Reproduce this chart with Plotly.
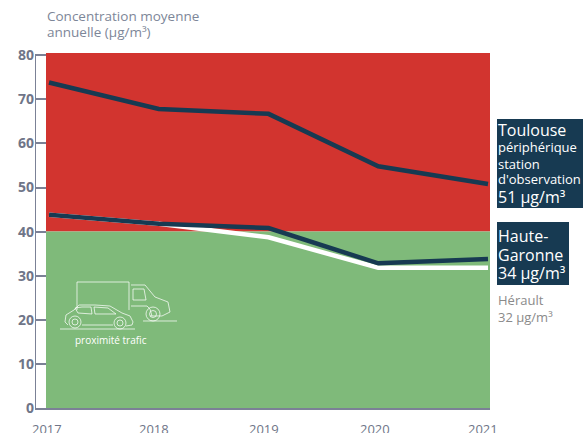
import plotly.graph_objects as go

years = [2017, 2018, 2019, 2020, 2021]
toulouse = [73.8, 67.8, 66.7, 54.8, 50.8]
haute_garonne = [43.8, 41.8, 40.8, 32.8, 33.8]
herault = [43.8, 41.8, 38.7, 31.8, 31.8]
y_ticks = [0, 10, 20, 30, 40, 50, 60, 70, 80]
threshold = 40

W, H = 583, 433
L, R, T, B = 35, 490, 53, 408
DARK = "#173a52"
GREY = "#7b8196"
RED = "#d2342f"
GREEN = "#7fba7a"
FONT = "Open Sans"

PX_PER_YEAR = 109.75
x_range = [2017 - (49 - L) / PX_PER_YEAR, 2017 + (R - 49) / PX_PER_YEAR]
y_range = [0, (B - T) / 44.1 * 10]


def px(x):
    return (x - L) / (R - L)


def py(y):
    return (B - y) / (B - T)


def path(points, close=False):
    s = "M " + " L ".join(f"{px(x):.4f},{py(y):.4f}" for x, y in points)
    return s + (" Z" if close else "")


fig = go.Figure()
for name, vals, col in [("Hérault", herault, "white"),
                        ("Haute-Garonne", haute_garonne, DARK),
                        ("Toulouse", toulouse, DARK)]:
    fig.add_trace(go.Scatter(x=years, y=vals, mode="lines", name=name,
                             line=dict(color=col, width=4.5, shape="linear"),
                             hoverinfo="x+y+name"))

shapes = []
rect_x0 = 2017 - 3 / PX_PER_YEAR
shapes.append(dict(type="rect", xref="x", yref="y", x0=rect_x0, x1=x_range[1],
                   y0=threshold, y1=y_range[1], fillcolor=RED, line_width=0, layer="below"))
shapes.append(dict(type="rect", xref="x", yref="y", x0=rect_x0, x1=x_range[1],
                   y0=0, y1=threshold, fillcolor=GREEN, line_width=0, layer="below"))
# y-axis line stops at the 80 tick
shapes.append(dict(type="line", xref="x", yref="y", x0=x_range[0], x1=x_range[0],
                   y0=0, y1=80, line=dict(color=GREY, width=2), layer="above"))
# Label boxes
for x0, y0, x1, y1 in [(497, 119, 583, 208), (497, 222, 569, 285)]:
    shapes.append(dict(type="rect", xref="paper", yref="paper", x0=px(x0), x1=px(x1),
                       y0=py(y1), y1=py(y0), fillcolor=DARK, line_width=0, layer="above"))

# Vehicle pictogram
icon = "rgba(255,255,255,0.72)"
icon_paths = [
    # truck box
    [(77, 310), (77, 282), (129, 282), (129, 310)],
    # cab
    [(131, 285), (145, 285), (155, 297), (168, 302), (170, 312), (162, 316), (150, 316)],
    [(133, 289), (144, 289), (146, 300), (133, 300), (133, 289)],
    [(131, 306), (147, 306), (150, 309), (152, 316)],
    # car body
    [(65, 322), (66, 315), (74, 310), (79, 305), (95, 305), (110, 306), (122, 313),
     (130, 316), (133, 322), (132, 325), (126, 326)],
    [(65, 322), (68, 325)],
    [(82, 325), (113, 325)],
    [(75, 308), (82, 307), (91, 307), (92, 314), (78, 313), (75, 308)],
    [(94, 307), (108, 308), (116, 314), (95, 314), (94, 307)],
    # ground lines
    [(60, 329), (135, 329)],
    [(143, 321), (177, 321)],
]
for p in icon_paths:
    shapes.append(dict(type="path", xref="paper", yref="paper", path=path(p),
                       line=dict(color=icon, width=1), layer="above"))
for cx, cy, r in [(75, 322, 6), (75, 322, 3), (120, 323, 6), (120, 323, 3),
                  (153, 314, 7), (153, 314, 3.5)]:
    shapes.append(dict(type="circle", xref="paper", yref="paper",
                       x0=px(cx - r), x1=px(cx + r), y0=py(cy + r), y1=py(cy - r),
                       line=dict(color=icon, width=1), layer="above"))

ann = []


def text(x, y, s, size, color, anchor="left"):
    ann.append(dict(xref="paper", yref="paper", x=px(x), y=py(y), text=s,
                    showarrow=False, xanchor=anchor, yanchor="middle", align=anchor,
                    xshift=0, borderpad=0,
                    font=dict(family=FONT, size=size, color=color)))


text(46, 16, "Concentration moyenne", 13.5, "#7d8698")
text(46, 32, "annuelle (µg/m³)", 13.5, "#7d8698")
text(497, 130, "Toulouse", 16, "white")
text(497, 147, "périphérique", 13, "white")
text(497, 164, "station", 13, "white")
text(497, 179, "d'observation", 13, "white")
text(497, 197, "51 µg/m³", 16, "white")
text(497, 236, "Haute-", 16, "white")
text(497, 255, "Garonne", 16, "white")
text(497, 273, "34 µg/m³", 16, "white")
text(497, 300, "Hérault", 13, "#8a8a8a")
text(497, 317, "32 µg/m³", 13, "#8a8a8a")
text(111, 340, "proximité trafic", 10, "white", "center")

# Year labels sit low, partly beyond the window edge, slightly left of their points
for yr, dx in zip(years, [-2, -5, -5, -3, -5]):
    ann.append(dict(xref="x", yref="paper", x=yr, y=py(429), text=str(yr),
                    showarrow=False, xanchor="center", yanchor="middle", xshift=dx,
                    font=dict(family=FONT, size=13, color="#6f7588")))

fig.update_layout(
    width=W, height=H, autosize=False,
    margin=dict(l=L, r=W - R, t=T, b=H - B),
    paper_bgcolor="white", plot_bgcolor="white",
    showlegend=False,
    shapes=shapes, annotations=ann,
    font=dict(family=FONT),
    xaxis=dict(range=x_range, tickmode="array", tickvals=years, showticklabels=False,
               ticks="", showgrid=False, zeroline=False,
               showline=True, linecolor=GREY, linewidth=2),
    yaxis=dict(range=y_range, tickmode="array", tickvals=y_ticks,
               ticks="inside", ticklen=11, tickwidth=2, tickcolor=GREY,
               showgrid=False, zeroline=False, showline=False,
               ticksuffix="\u00a0",
               tickfont=dict(family=FONT, size=14, color="#6f7588", weight="bold")),
)
fig.write_html("out.html", config=dict(displayModeBar=False),
               post_script="document.body.style.margin='0';document.documentElement.style.overflow='hidden';")
